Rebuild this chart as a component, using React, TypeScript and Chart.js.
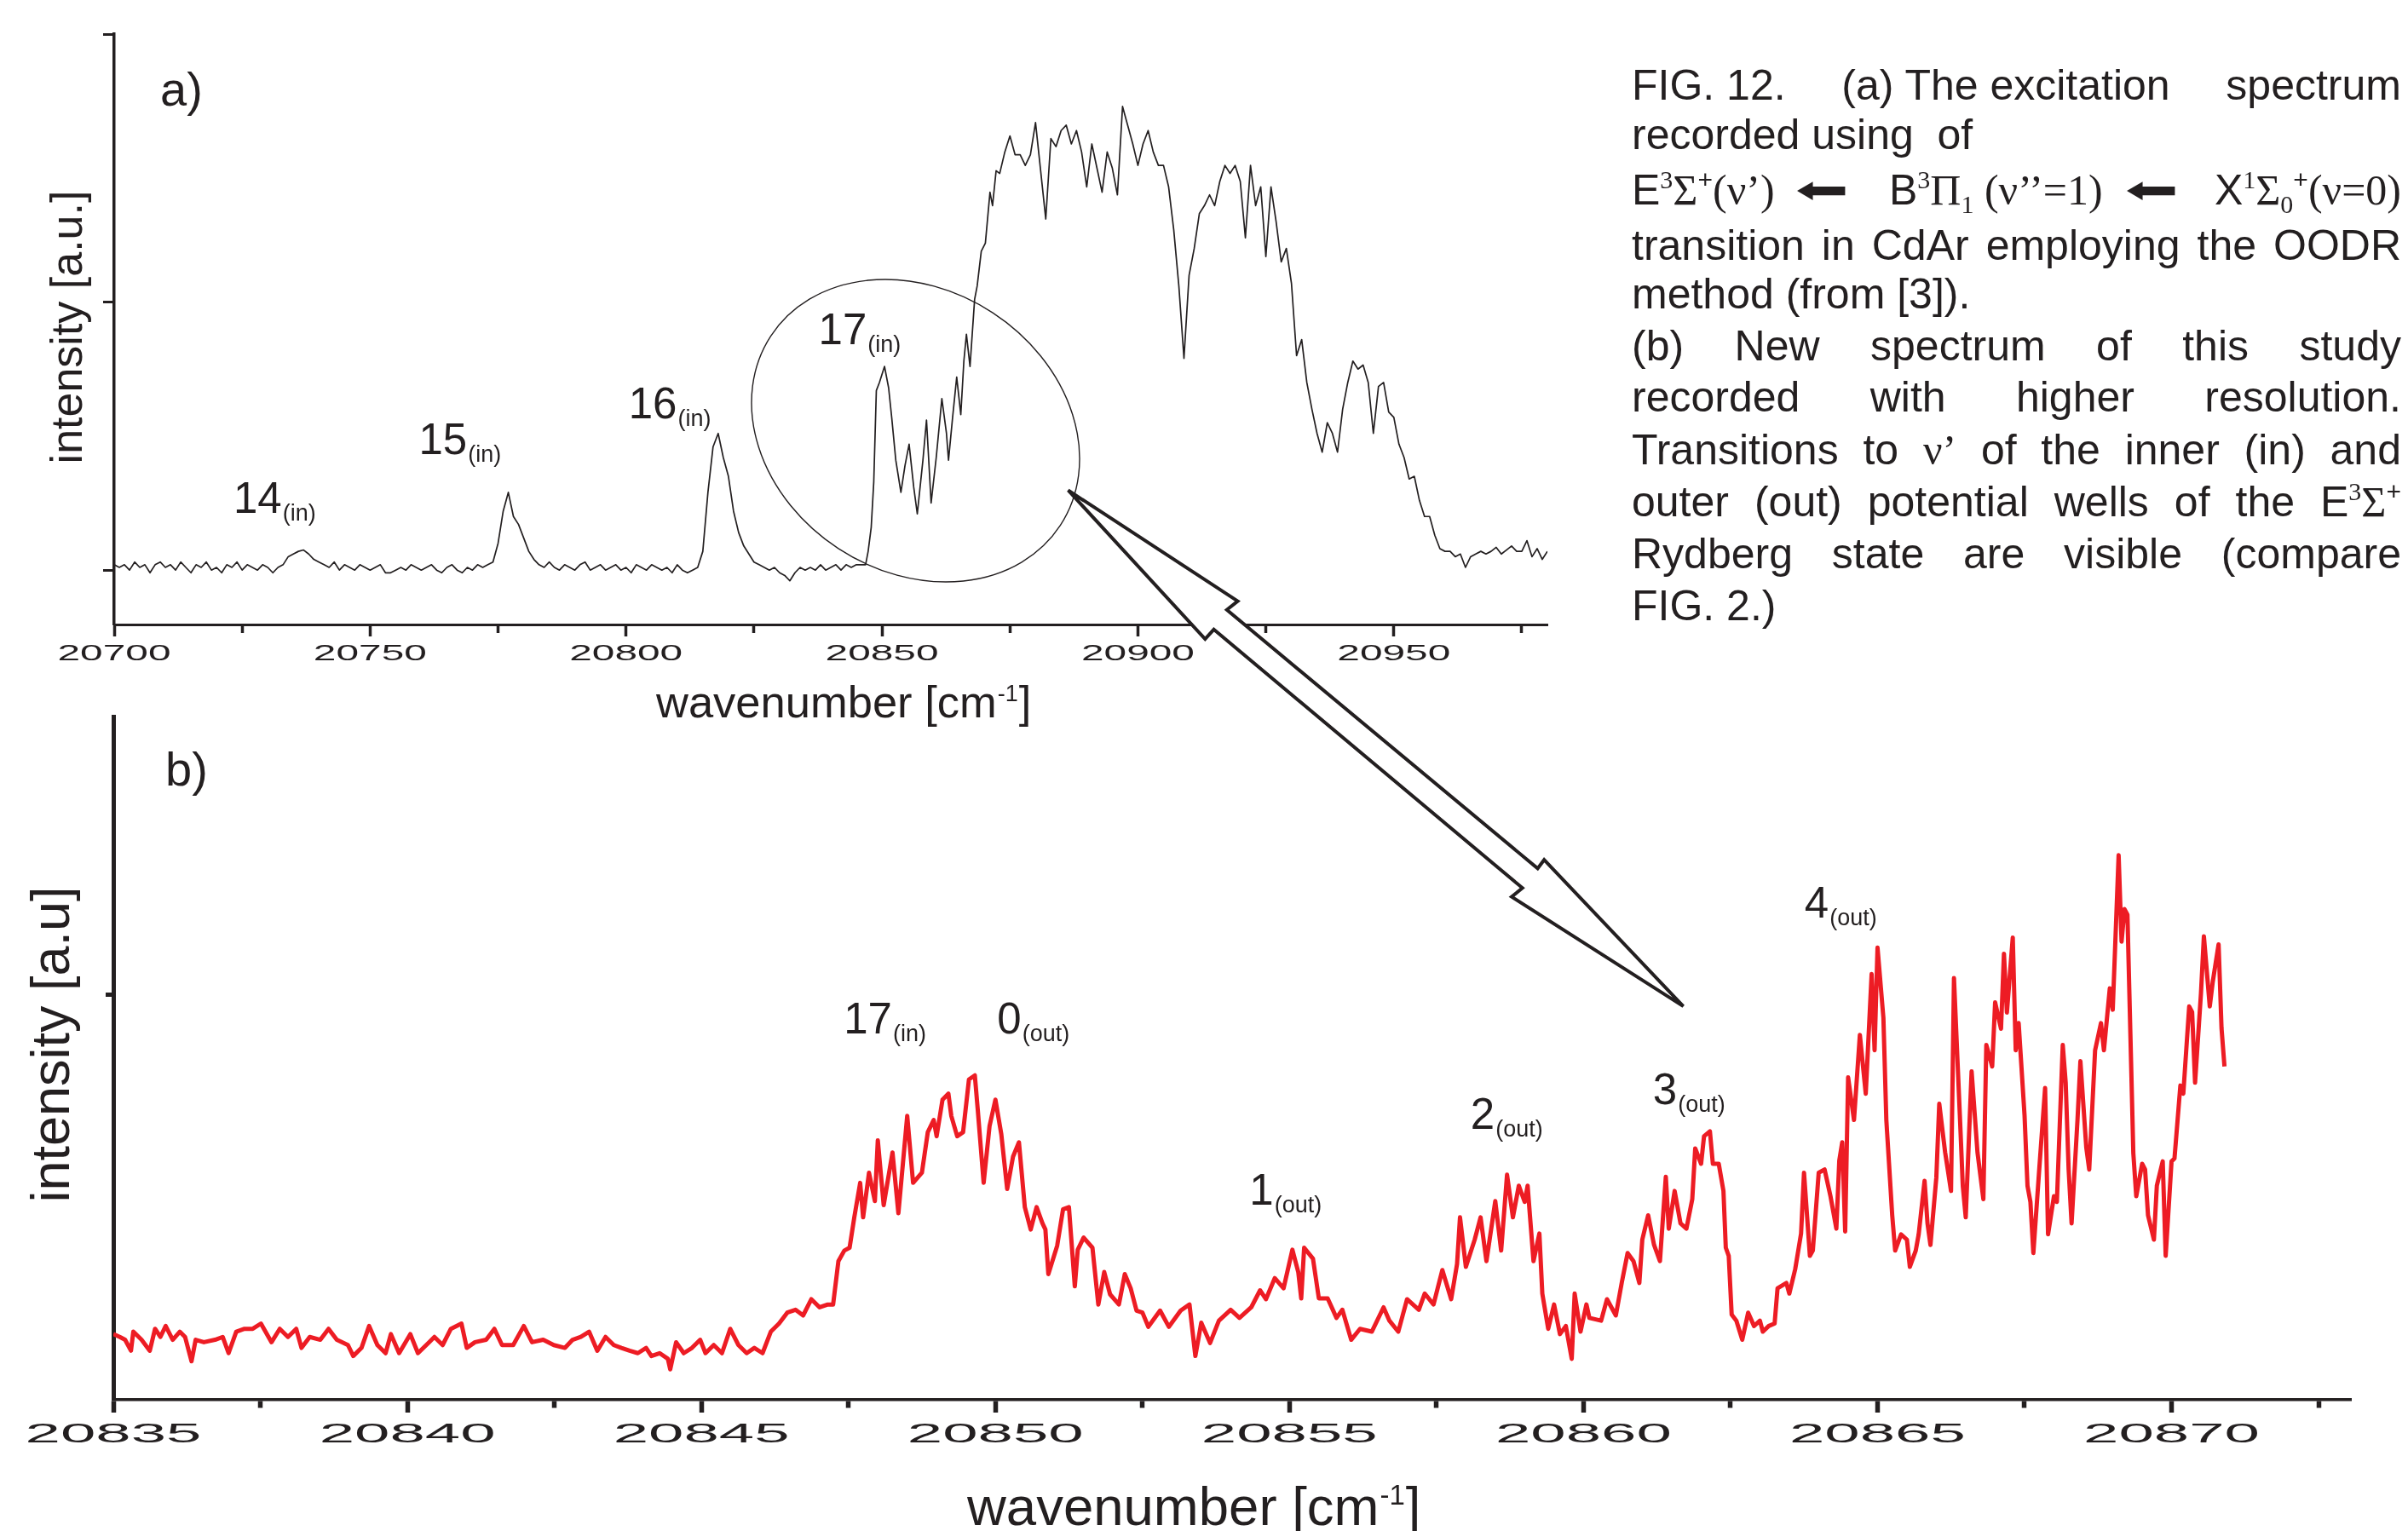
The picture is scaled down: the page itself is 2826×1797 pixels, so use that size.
import React, { useEffect, useRef } from "react";
import { Chart, registerables } from "chart.js";

Chart.register(...registerables);

const FONT = "'Liberation Sans', Arial, Helvetica, sans-serif";
const SERIF = "'Liberation Serif', 'Times New Roman', serif";
const INK = "#231f20";
const RED = "#ed1c24";

// ---------- data: panel (a), wavenumber / intensity ----------
const specA: [number, number][] = [
  [20700,0.02],[20701,0.01],[20702,0.02],[20703,0.00],[20704,0.03],[20705,0.01],[20706,0.02],[20707,-0.01],[20708,0.02],[20709,0.03],
  [20710,0.01],[20711,0.02],[20712,0.00],[20713,0.03],[20714,0.01],[20715,-0.01],[20716,0.02],[20717,0.01],[20718,0.03],[20719,0.00],
  [20720,0.01],[20721,-0.01],[20722,0.02],[20723,0.01],[20724,0.03],[20725,0.00],[20726,0.02],[20727,0.01],[20728,0.00],[20729,0.02],
  [20730,0.01],[20731,-0.01],[20732,0.01],[20733,0.02],[20734,0.05],[20735,0.06],[20736,0.07],[20737,0.075],[20738,0.06],[20739,0.04],
  [20740,0.03],[20741,0.02],[20742,0.01],[20743,0.03],[20744,0.00],[20745,0.02],[20746,0.01],[20747,0.00],[20748,0.02],[20749,0.01],
  [20750,0.00],[20751,0.01],[20752,0.02],[20753,-0.01],[20754,-0.01],[20755,0.00],[20756,0.01],[20757,0.00],[20758,0.02],[20759,0.01],
  [20760,0.00],[20761,0.01],[20762,0.02],[20763,0.00],[20764,-0.01],[20765,0.01],[20766,0.02],[20767,0.00],[20768,-0.01],[20769,0.01],
  [20770,0.00],[20771,0.02],[20772,0.01],[20773,0.02],[20774,0.03],[20775,0.10],[20776,0.22],[20777,0.29],[20778,0.20],[20779,0.17],
  [20780,0.12],[20781,0.07],[20782,0.04],[20783,0.02],[20784,0.01],[20785,0.03],[20786,0.01],[20787,0.00],[20788,0.02],[20789,0.01],
  [20790,0.00],[20791,0.02],[20792,0.03],[20793,0.00],[20794,0.01],[20795,0.02],[20796,0.00],[20797,0.01],[20798,0.02],[20799,0.00],
  [20800,0.01],[20801,-0.01],[20802,0.02],[20803,0.01],[20804,0.00],[20805,0.02],[20806,0.01],[20807,0.00],[20808,0.01],[20809,-0.01],
  [20810,0.02],[20811,0.00],[20812,-0.01],[20813,0.00],[20814,0.01],[20815,0.07],[20816,0.29],[20817,0.46],[20818,0.51],[20819,0.42],
  [20820,0.35],[20821,0.22],[20822,0.14],[20823,0.09],[20824,0.06],[20825,0.03],[20826,0.02],[20827,0.01],[20828,0.00],[20829,0.01],
  [20830,-0.01],[20831,-0.02],[20832,-0.04],[20833,-0.01],[20834,0.01],[20835,0.00],[20836,0.01],[20837,0.00],[20838,0.02],[20839,0.00],
  [20840,0.01],[20841,0.02],[20842,0.00],[20843,0.02],[20844,0.01],[20845,0.02],[20846,0.02],
  [20846.8,0.02],[20847.3,0.07],[20847.9,0.16],[20848.4,0.33],[20848.9,0.67],[20849.5,0.70],[20850.5,0.76],[20851.3,0.68],[20851.9,0.57],
  [20852.7,0.41],[20853.7,0.29],[20854.5,0.39],[20855.3,0.47],[20856.2,0.31],[20856.9,0.21],[20858.0,0.41],[20858.7,0.56],[20859.6,0.25],
  [20860.6,0.42],[20861.7,0.64],[20862.6,0.51],[20863.0,0.41],[20863.8,0.57],[20864.6,0.72],[20865.4,0.58],[20866.0,0.78],[20866.5,0.88],
  [20867.2,0.76],[20868.1,1.01],[20868.6,1.06],[20869.4,1.19],[20870.2,1.22],[20871.1,1.41],[20871.6,1.36],[20872.3,1.49],
  [20873,1.48],[20874,1.56],[20875,1.62],[20876,1.55],[20877,1.55],[20878,1.51],[20879,1.55],[20880,1.67],[20881,1.49],[20882,1.31],
  [20883,1.61],[20884,1.58],[20885,1.64],[20886,1.66],[20887,1.59],[20888,1.64],[20889,1.56],[20890,1.43],[20891,1.59],[20892,1.50],
  [20893,1.41],[20894,1.56],[20895,1.50],[20896,1.40],[20897,1.73],[20898,1.66],[20899,1.59],[20900,1.51],[20901,1.59],[20902,1.64],
  [20903,1.56],[20904,1.51],[20905,1.51],[20906,1.43],[20907,1.27],[20908,1.06],[20909,0.79],[20910,1.10],[20911,1.20],[20912,1.33],
  [20913,1.36],[20914,1.40],[20915,1.36],[20916,1.45],[20917,1.51],[20918,1.48],[20919,1.51],[20920,1.45],[20921,1.24],[20922,1.51],
  [20923,1.36],[20924,1.43],[20925,1.17],[20926,1.43],[20927,1.30],[20928,1.15],[20929,1.20],[20930,1.07],[20931,0.80],[20932,0.86],
  [20933,0.70],[20934,0.60],[20935,0.51],[20936,0.44],[20937,0.55],[20938,0.51],[20939,0.44],[20940,0.60],[20941,0.70],[20942,0.78],
  [20943,0.75],[20944,0.765],[20945,0.70],[20946,0.51],[20947,0.685],[20948,0.70],[20949,0.59],[20950,0.57],[20951,0.47],[20952,0.42],
  [20953,0.34],[20954,0.35],[20955,0.26],[20956,0.20],[20957,0.20],[20958,0.13],[20959,0.08],[20960,0.07],[20961,0.07],[20962,0.05],
  [20963,0.06],[20964,0.01],[20965,0.05],[20966,0.06],[20967,0.07],[20968,0.06],[20969,0.07],[20970,0.085],[20971,0.06],[20972,0.075],
  [20973,0.09],[20974,0.07],[20975,0.07],[20976,0.11],[20977,0.05],[20978,0.08],[20979,0.04],[20980,0.07],
];

// ---------- data: panel (b), wavenumber / intensity ----------
const specB: [number, number][] = [
  [20835.00,0.162],[20835.11,0.155],[20835.20,0.148],[20835.30,0.121],[20835.34,0.168],[20835.48,0.148],[20835.62,0.121],[20835.71,0.175],[20835.80,0.155],[20835.89,0.182],
  [20836.01,0.148],[20836.13,0.168],[20836.22,0.155],[20836.33,0.095],[20836.40,0.148],[20836.54,0.142],[20836.73,0.148],[20836.86,0.155],[20836.96,0.115],
  [20837.09,0.168],[20837.23,0.175],[20837.37,0.175],[20837.51,0.188],[20837.69,0.142],[20837.83,0.175],[20837.97,0.155],
  [20838.11,0.175],[20838.20,0.128],[20838.34,0.155],[20838.52,0.148],[20838.66,0.175],[20838.80,0.148],[20838.99,0.135],
  [20839.08,0.108],[20839.22,0.128],[20839.35,0.182],[20839.49,0.135],[20839.63,0.115],[20839.72,0.162],[20839.86,0.115],
  [20840.05,0.162],[20840.18,0.115],[20840.37,0.142],[20840.46,0.155],[20840.60,0.135],[20840.74,0.175],[20840.92,0.188],
  [20841.01,0.128],[20841.15,0.142],[20841.34,0.148],[20841.48,0.175],[20841.61,0.135],[20841.80,0.135],[20841.98,0.182],
  [20842.12,0.142],[20842.31,0.148],[20842.49,0.135],[20842.68,0.128],[20842.81,0.148],[20842.95,0.155],
  [20843.09,0.168],[20843.23,0.121],[20843.37,0.155],[20843.51,0.135],[20843.64,0.128],[20843.78,0.121],[20843.92,0.115],
  [20844.06,0.128],[20844.15,0.108],[20844.29,0.115],[20844.43,0.101],[20844.47,0.075],[20844.57,0.142],[20844.70,0.115],[20844.84,0.128],[20844.98,0.148],
  [20845.07,0.115],[20845.21,0.135],[20845.35,0.115],[20845.49,0.175],[20845.63,0.135],[20845.77,0.115],[20845.90,0.128],
  [20846.04,0.115],[20846.18,0.168],[20846.32,0.188],[20846.46,0.215],[20846.60,0.222],[20846.73,0.208],[20846.87,0.248],
  [20847.01,0.228],[20847.15,0.235],[20847.24,0.235],[20847.33,0.342],[20847.43,0.368],[20847.52,0.375],
  [20847.60,0.45],[20847.70,0.535],[20847.75,0.45],[20847.85,0.56],[20847.95,0.49],[20848.00,0.64],[20848.10,0.48],[20848.25,0.61],[20848.35,0.46],[20848.45,0.62],[20848.50,0.70],[20848.60,0.535],[20848.75,0.56],[20848.85,0.66],[20848.95,0.69],
  [20849.00,0.65],[20849.10,0.74],[20849.20,0.755],[20849.25,0.70],[20849.35,0.65],[20849.45,0.66],[20849.55,0.79],[20849.65,0.80],[20849.70,0.715],[20849.80,0.535],[20849.90,0.675],
  [20850.00,0.74],[20850.10,0.655],[20850.20,0.52],[20850.30,0.60],[20850.40,0.635],[20850.50,0.475],[20850.60,0.42],[20850.70,0.475],[20850.80,0.435],[20850.85,0.42],[20850.90,0.31],
  [20851.05,0.38],[20851.15,0.47],[20851.25,0.475],[20851.35,0.28],[20851.40,0.37],[20851.50,0.40],[20851.65,0.375],[20851.75,0.235],[20851.85,0.315],[20851.95,0.26],
  [20852.10,0.235],[20852.20,0.31],[20852.30,0.275],[20852.40,0.22],[20852.50,0.215],[20852.60,0.18],[20852.80,0.22],[20852.95,0.18],
  [20853.15,0.22],[20853.30,0.235],[20853.40,0.108],[20853.50,0.19],[20853.65,0.14],[20853.80,0.195],
  [20854.00,0.222],[20854.15,0.202],[20854.35,0.228],[20854.50,0.27],[20854.60,0.248],[20854.75,0.30],[20854.90,0.275],
  [20855.05,0.37],[20855.15,0.315],[20855.20,0.25],[20855.25,0.375],[20855.40,0.348],[20855.50,0.25],[20855.65,0.25],[20855.80,0.202],[20855.90,0.222],
  [20856.05,0.148],[20856.20,0.175],[20856.40,0.168],[20856.60,0.228],[20856.70,0.195],[20856.85,0.168],
  [20857.00,0.248],[20857.20,0.222],[20857.30,0.262],[20857.45,0.235],[20857.60,0.32],[20857.75,0.248],[20857.85,0.335],[20857.90,0.45],
  [20858.00,0.328],[20858.15,0.395],[20858.25,0.45],[20858.35,0.342],[20858.50,0.49],[20858.60,0.368],[20858.70,0.555],[20858.80,0.45],[20858.90,0.528],
  [20859.00,0.488],[20859.05,0.528],[20859.15,0.342],[20859.25,0.41],[20859.30,0.262],[20859.40,0.175],[20859.50,0.235],[20859.60,0.162],[20859.70,0.182],[20859.80,0.101],[20859.85,0.262],[20859.95,0.168],
  [20860.05,0.235],[20860.10,0.202],[20860.30,0.195],[20860.40,0.248],[20860.55,0.208],[20860.65,0.288],[20860.75,0.362],[20860.85,0.342],[20860.95,0.288],
  [20861.00,0.395],[20861.10,0.455],[20861.20,0.382],[20861.30,0.342],[20861.40,0.55],[20861.45,0.422],[20861.55,0.515],[20861.65,0.435],[20861.75,0.422],[20861.85,0.495],[20861.90,0.62],
  [20862.00,0.582],[20862.05,0.65],[20862.15,0.662],[20862.20,0.582],[20862.30,0.582],[20862.38,0.515],[20862.42,0.375],[20862.47,0.355],[20862.52,0.21],[20862.60,0.195],[20862.70,0.148],[20862.80,0.215],[20862.90,0.182],
  [20863.00,0.195],[20863.05,0.168],[20863.15,0.182],[20863.25,0.188],[20863.30,0.275],[20863.45,0.288],[20863.50,0.262],[20863.60,0.322],[20863.70,0.41],[20863.75,0.56],[20863.85,0.355],[20863.90,0.368],
  [20864.00,0.56],[20864.10,0.568],[20864.20,0.502],[20864.30,0.422],[20864.35,0.59],[20864.40,0.635],[20864.45,0.415],[20864.50,0.795],[20864.60,0.69],[20864.70,0.90],[20864.80,0.755],[20864.90,1.05],[20864.95,0.862],
  [20865.00,1.115],[20865.10,0.942],[20865.15,0.69],[20865.25,0.455],[20865.30,0.368],[20865.40,0.408],[20865.50,0.395],[20865.55,0.328],[20865.65,0.368],[20865.70,0.408],[20865.80,0.54],[20865.85,0.435],[20865.90,0.382],
  [20866.00,0.548],[20866.05,0.73],[20866.15,0.61],[20866.25,0.515],[20866.30,1.04],[20866.40,0.702],[20866.45,0.528],[20866.50,0.45],[20866.60,0.81],[20866.70,0.61],[20866.80,0.495],[20866.85,0.875],[20866.95,0.822],
  [20867.00,0.98],[20867.10,0.915],[20867.15,1.10],[20867.20,0.955],[20867.30,1.14],[20867.35,0.862],[20867.40,0.929],[20867.50,0.702],[20867.55,0.528],[20867.60,0.488],[20867.65,0.362],[20867.75,0.568],[20867.85,0.769],[20867.90,0.408],
  [20868.00,0.502],[20868.05,0.488],[20868.15,0.875],[20868.20,0.782],[20868.25,0.568],[20868.30,0.435],[20868.40,0.689],[20868.45,0.835],[20868.55,0.622],[20868.60,0.568],[20868.70,0.862],[20868.80,0.929],[20868.85,0.862],[20868.95,1.015],
  [20869.00,0.962],[20869.10,1.343],[20869.15,1.130],[20869.20,1.210],[20869.25,1.196],[20869.30,0.902],[20869.35,0.608],[20869.40,0.502],[20869.50,0.582],[20869.55,0.568],[20869.60,0.455],[20869.70,0.395],[20869.75,0.528],[20869.85,0.588],[20869.90,0.355],
  [20870.00,0.588],[20870.05,0.595],[20870.15,0.775],[20870.20,0.755],[20870.30,0.970],[20870.35,0.956],[20870.40,0.782],[20870.50,1.002],[20870.55,1.143],[20870.65,0.970],[20870.70,1.030],[20870.80,1.123],[20870.85,0.916],[20870.90,0.822],
];

// ---------- axis ticks ----------
const ticksA = [20700, 20725, 20750, 20775, 20800, 20825, 20850, 20875, 20900, 20925, 20950, 20975];
const tickLabelsA = [20700, 20750, 20800, 20850, 20900, 20950];
const yTicksA = [0, 1, 2];
const ticksB = [20835, 20837.5, 20840, 20842.5, 20845, 20847.5, 20850, 20852.5, 20855, 20857.5, 20860, 20862.5, 20865, 20867.5, 20870, 20872.5];
const tickLabelsB = [20835, 20840, 20845, 20850, 20855, 20860, 20865, 20870];
const yTicksB = [1];

// ---------- peak labels (data coordinates of label start / baseline) ----------
const peakLabelsA = [
  { main: "14", sub: "(in)", x: 20723.3, y: 0.213 },
  { main: "15", sub: "(in)", x: 20759.5, y: 0.432 },
  { main: "16", sub: "(in)", x: 20800.5, y: 0.565 },
  { main: "17", sub: "(in)", x: 20837.6, y: 0.844 },
];
const peakLabelsB = [
  { main: "17", sub: "(in)", x: 20847.42, y: 0.903 },
  { main: "0", sub: "(out)", x: 20850.03, y: 0.903 },
  { main: "1", sub: "(out)", x: 20854.32, y: 0.481 },
  { main: "2", sub: "(out)", x: 20858.08, y: 0.668 },
  { main: "3", sub: "(out)", x: 20861.18, y: 0.729 },
  { main: "4", sub: "(out)", x: 20863.76, y: 1.189 },
];

// ---------- drawing helpers ----------
function drawStretched(ctx: any, text: string, cx: number, baseline: number, size: number, sx: number) {
  ctx.save();
  ctx.font = `${size}px ${FONT}`;
  ctx.fillStyle = INK;
  ctx.textAlign = "center";
  ctx.textBaseline = "alphabetic";
  ctx.translate(cx, baseline);
  ctx.scale(sx, 1);
  ctx.fillText(text, 0, 0);
  ctx.restore();
}

function drawMainSub(ctx: any, main: string, sub: string, x: number, y: number, size: number, subSize: number, drop: number) {
  ctx.save();
  ctx.fillStyle = INK;
  ctx.textAlign = "left";
  ctx.textBaseline = "alphabetic";
  ctx.font = `${size}px ${FONT}`;
  ctx.fillText(main, x, y);
  const w = ctx.measureText(main).width;
  ctx.font = `${subSize}px ${FONT}`;
  ctx.fillText(sub, x + w + 1, y + drop);
  ctx.restore();
}

function drawWavenumberTitle(ctx: any, left: number, baseline: number, size: number, supSize: number, rise: number) {
  ctx.save();
  ctx.fillStyle = INK;
  ctx.textAlign = "left";
  ctx.textBaseline = "alphabetic";
  ctx.font = `${size}px ${FONT}`;
  const pre = "wavenumber [cm";
  ctx.fillText(pre, left, baseline);
  let x = left + ctx.measureText(pre).width + 1;
  ctx.font = `${supSize}px ${FONT}`;
  ctx.fillText("-1", x, baseline - rise);
  x += ctx.measureText("-1").width + 1;
  ctx.font = `${size}px ${FONT}`;
  ctx.fillText("]", x, baseline);
  ctx.restore();
}

function drawVerticalTitle(ctx: any, text: string, baselineX: number, centerY: number, size: number) {
  ctx.save();
  ctx.fillStyle = INK;
  ctx.font = `${size}px ${FONT}`;
  ctx.textAlign = "center";
  ctx.textBaseline = "alphabetic";
  ctx.translate(baselineX, centerY);
  ctx.rotate(-Math.PI / 2);
  ctx.fillText(text, 0, 0);
  ctx.restore();
}

function drawPlain(ctx: any, text: string, x: number, y: number, size: number) {
  ctx.save();
  ctx.fillStyle = INK;
  ctx.font = `${size}px ${FONT}`;
  ctx.textAlign = "left";
  ctx.textBaseline = "alphabetic";
  ctx.fillText(text, x, y);
  ctx.restore();
}

const decorA = {
  id: "decorA",
  afterDraw(chart: any) {
    const ctx = chart.ctx;
    const xs = chart.scales.x;
    const ys = chart.scales.y;
    tickLabelsA.forEach((v) => drawStretched(ctx, String(v), xs.getPixelForValue(v), 775, 26, 1.84));
    drawWavenumberTitle(ctx, 770, 842, 52.5, 27, 19);
    drawVerticalTitle(ctx, "intensity [a.u.]", 96, 384, 52);
    peakLabelsA.forEach((p) =>
      drawMainSub(ctx, p.main, p.sub, xs.getPixelForValue(p.x), ys.getPixelForValue(p.y), 51, 27, 9)
    );
    drawPlain(ctx, "a)", 188, 124, 56);
  },
};

const OFFSET_B = 800;
const decorB = {
  id: "decorB",
  afterDraw(chart: any) {
    const ctx = chart.ctx;
    const xs = chart.scales.x;
    const ys = chart.scales.y;
    tickLabelsB.forEach((v) => drawStretched(ctx, String(v), xs.getPixelForValue(v), 1693 - OFFSET_B, 31, 2.4));
    drawWavenumberTitle(ctx, 1135, 1790 - OFFSET_B, 63.5, 33, 24);
    drawVerticalTitle(ctx, "intensity [a.u]", 81, 1226 - OFFSET_B, 63);
    peakLabelsB.forEach((p) =>
      drawMainSub(ctx, p.main, p.sub, xs.getPixelForValue(p.x), ys.getPixelForValue(p.y), 51, 27, 9)
    );
    drawPlain(ctx, "b)", 194, 922 - OFFSET_B, 56);
  },
};

// ---------- caption ----------
const supS: any = { fontSize: "30px", position: "relative", top: "-19px", lineHeight: 0 };
const subS: any = { fontSize: "30px", position: "relative", top: "10px", lineHeight: 0 };
const serifS: any = { fontFamily: SERIF };
const CAP_LEFT = 1915;
const CAP_W = 903;
const CAP_SIZE = 50;

function CapLine({ baseline, justify, children }: any) {
  const style: any = {
    position: "absolute",
    left: CAP_LEFT,
    top: baseline - 42,
    width: CAP_W,
    height: CAP_SIZE,
    lineHeight: `${CAP_SIZE}px`,
    fontSize: `${CAP_SIZE}px`,
    fontFamily: FONT,
    color: INK,
    whiteSpace: "pre",
  };
  if (justify) {
    style.display = "flex";
    style.justifyContent = "space-between";
    style.alignItems = "baseline";
  }
  return <div style={style}>{children}</div>;
}

function Words({ text }: { text: string }) {
  return (
    <>
      {text.split(" ").map((w, i) => (
        <span key={i}>{w}</span>
      ))}
    </>
  );
}

function Arrow({ left }: { left: number }) {
  return (
    <span
      style={{
        position: "absolute",
        left,
        top: 0,
        fontFamily: "'DejaVu Sans', sans-serif",
        fontSize: "44px",
        display: "inline-block",
        transform: "scaleX(1.7)",
        transformOrigin: "0 50%",
      }}
    >
      ⬅
    </span>
  );
}

function Caption() {
  return (
    <>
      <CapLine baseline={117} justify>
        <span>FIG. 12.</span>
        <span>(a) The excitation</span>
        <span>spectrum</span>
      </CapLine>
      <CapLine baseline={175}>recorded using  of</CapLine>
      <CapLine baseline={240}>
        <span style={{ position: "absolute", left: 0, top: 0 }}>
          E<span style={{ ...supS, ...serifS }}>3</span>
          <span style={serifS}>Σ</span>
          <span style={supS}>+</span>
          <span style={serifS}>(ν’)</span>
        </span>
        <Arrow left={192} />
        <span style={{ position: "absolute", left: 302, top: 0 }}>
          B<span style={{ ...supS, ...serifS }}>3</span>
          <span style={serifS}>Π</span>
          <span style={{ ...subS, ...serifS }}>1</span>
          <span style={serifS}> (ν’’=1)</span>
        </span>
        <Arrow left={579} />
        <span style={{ position: "absolute", right: 0, top: 0 }}>
          X<span style={{ ...supS, ...serifS }}>1</span>
          <span style={serifS}>Σ</span>
          <span style={{ ...subS, ...serifS }}>0</span>
          <span style={supS}>+</span>
          <span style={serifS}>(ν=0)</span>
        </span>
      </CapLine>
      <CapLine baseline={305} justify>
        <Words text="transition in CdAr employing the OODR" />
      </CapLine>
      <CapLine baseline={362}>method (from [3]).</CapLine>
      <CapLine baseline={423} justify>
        <Words text="(b) New spectrum of this study" />
      </CapLine>
      <CapLine baseline={483} justify>
        <Words text="recorded with higher resolution." />
      </CapLine>
      <CapLine baseline={545} justify>
        <span>Transitions</span>
        <span>to</span>
        <span style={serifS}>ν’</span>
        <span>of</span>
        <span>the</span>
        <span>inner</span>
        <span>(in)</span>
        <span>and</span>
      </CapLine>
      <CapLine baseline={606} justify>
        <Words text="outer (out) potential wells of the" />
        <span>
          E<span style={{ ...supS, ...serifS }}>3</span>
          <span style={serifS}>Σ</span>
          <span style={supS}>+</span>
        </span>
      </CapLine>
      <CapLine baseline={667} justify>
        <Words text="Rydberg state are visible (compare" />
      </CapLine>
      <CapLine baseline={728}>FIG. 2.)</CapLine>
    </>
  );
}

// ---------- arrow / ellipse overlay geometry ----------
const arrowPts = [
  [1253.6, 575.5], [1452.6, 705.6], [1439.8, 715.8], [1804.6, 1019.4], [1812.2, 1009.2],
  [1975.5, 1181.1], [1774.0, 1052.6], [1786.7, 1042.3], [1424.5, 738.8], [1414.3, 750.0],
];

export default function App() {
  const refA = useRef<HTMLCanvasElement | null>(null);
  const refB = useRef<HTMLCanvasElement | null>(null);

  useEffect(() => {
    if (!refA.current || !refB.current) return;

    const chartA = new Chart(refA.current, {
      type: "line",
      data: {
        datasets: [
          {
            data: specA.map(([x, y]) => ({ x, y })),
            borderColor: INK,
            borderWidth: 1.7,
            pointRadius: 0,
            tension: 0,
            fill: false,
            borderJoinStyle: "round",
          },
        ],
      },
      options: {
        animation: false,
        responsive: false,
        maintainAspectRatio: false,
        events: [],
        layout: { padding: { left: 0, top: 40, right: 84, bottom: 0 } },
        plugins: { legend: { display: false }, tooltip: { enabled: false }, title: { display: false } },
        scales: {
          x: {
            type: "linear",
            min: 20700,
            max: 20980,
            afterBuildTicks: (s: any) => {
              s.ticks = ticksA.map((v) => ({ value: v }));
            },
            afterFit: (s: any) => {
              s.height = 127;
            },
            ticks: { display: false },
            grid: {
              drawOnChartArea: false,
              drawTicks: true,
              tickLength: 14,
              tickWidth: 3.5,
              tickColor: INK,
              tickBorderDash: (c: any) => (c.tick && tickLabelsA.includes(c.tick.value) ? [] : [8, 40]),
            },
            border: { display: true, color: INK, width: 3 },
          },
          y: {
            type: "linear",
            min: -0.203,
            max: 2.0,
            afterBuildTicks: (s: any) => {
              s.ticks = yTicksA.map((v) => ({ value: v }));
            },
            afterFit: (s: any) => {
              s.width = 134;
            },
            ticks: { display: false },
            grid: { drawOnChartArea: false, drawTicks: true, tickLength: 13, tickWidth: 3, tickColor: INK },
            border: { display: true, color: INK, width: 3.5 },
          },
        },
      } as any,
      plugins: [decorA],
    });

    const chartB = new Chart(refB.current, {
      type: "line",
      data: {
        datasets: [
          {
            data: specB.map(([x, y]) => ({ x, y })),
            borderColor: RED,
            borderWidth: 5,
            pointRadius: 0,
            tension: 0,
            fill: false,
            borderJoinStyle: "round",
          },
        ],
      },
      options: {
        animation: false,
        responsive: false,
        maintainAspectRatio: false,
        events: [],
        layout: { padding: { left: 0, top: 41, right: 67, bottom: 0 } },
        plugins: { legend: { display: false }, tooltip: { enabled: false }, title: { display: false } },
        scales: {
          x: {
            type: "linear",
            min: 20835,
            max: 20873.05,
            afterBuildTicks: (s: any) => {
              s.ticks = ticksB.map((v) => ({ value: v }));
            },
            afterFit: (s: any) => {
              s.height = 154;
            },
            ticks: { display: false },
            grid: {
              drawOnChartArea: false,
              drawTicks: true,
              tickLength: 15,
              tickWidth: 5.5,
              tickColor: INK,
              tickBorderDash: (c: any) => (c.tick && tickLabelsB.includes(c.tick.value) ? [] : [8, 40]),
            },
            border: { display: true, color: INK, width: 3.5 },
          },
          y: {
            type: "linear",
            min: 0,
            max: 1.685,
            afterBuildTicks: (s: any) => {
              s.ticks = yTicksB.map((v) => ({ value: v }));
            },
            afterFit: (s: any) => {
              s.width = 133;
            },
            ticks: { display: false },
            grid: { drawOnChartArea: false, drawTicks: true, tickLength: 9, tickWidth: 5, tickColor: INK },
            border: { display: true, color: INK, width: 5 },
          },
        },
      } as any,
      plugins: [decorB],
    });

    return () => {
      chartA.destroy();
      chartB.destroy();
    };
  }, []);

  return (
    <div
      style={{
        position: "absolute",
        left: 0,
        top: 0,
        width: 2826,
        height: 1797,
        overflow: "hidden",
        background: "#ffffff",
      }}
    >
      <canvas
        ref={refA}
        width={1900}
        height={860}
        style={{ position: "absolute", left: 0, top: 0, width: 1900, height: 860 }}
      />
      <canvas
        ref={refB}
        width={2826}
        height={997}
        style={{ position: "absolute", left: 0, top: OFFSET_B, width: 2826, height: 997 }}
      />
      <svg
        width={2826}
        height={1797}
        style={{ position: "absolute", left: 0, top: 0, pointerEvents: "none" }}
      >
        <ellipse
          cx={1074.5}
          cy={505.5}
          rx={203}
          ry={165.4}
          transform="rotate(33.2 1074.5 505.5)"
          fill="none"
          stroke={INK}
          strokeWidth={1.4}
        />
        <polygon
          points={arrowPts.map((p) => p.join(",")).join(" ")}
          fill="#ffffff"
          stroke={INK}
          strokeWidth={4}
          strokeLinejoin="miter"
        />
      </svg>
      <Caption />
    </div>
  );
}
